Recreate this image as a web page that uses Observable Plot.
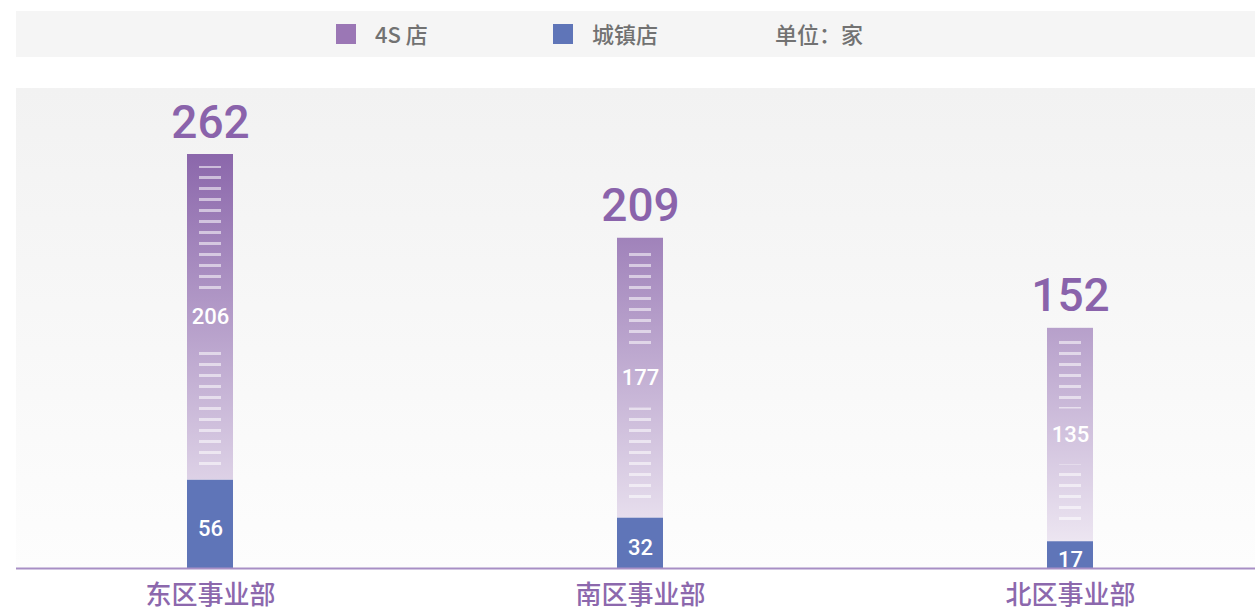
<!DOCTYPE html>
<html>
<head>
<meta charset="utf-8">
<script src="https://cdn.jsdelivr.net/npm/d3@7"></script>
<script src="https://cdn.jsdelivr.net/npm/@observablehq/plot@0.6"></script>
<style>
  html, body { margin: 0; padding: 0; background: #fff; }
  body { width: 1255px; height: 614px; overflow: hidden; font-family: "Noto Sans CJK SC", "Noto Sans", sans-serif; }
  #legend {
    margin: 11px 0 0 16px; height: 46px; background: #f5f5f5;
    display: flex; align-items: center; padding-left: 320px; box-sizing: border-box;
    color: #727272; font-size: 22px; font-weight: 500;
  }
  #legend .item { display: flex; align-items: center; }
  #legend .sw { width: 20px; height: 20px; margin-right: 19px; }
  #legend span { position: relative; top: -1px; }
  #chart svg { display: block; margin-left: 16px; }
</style>
</head>
<body>
<div id="legend"></div>
<div id="chart"></div>
<script>
// ---- data ----
const categories = ["东区事业部", "南区事业部", "北区事业部"];
const shop4S = [206, 177, 135];
const townShop = [56, 32, 17];
const totals = [262, 209, 152];
const seriesNames = ["4S 店", "城镇店"];
const unitLabel = "单位：家";

// ---- styles ----
const color4S = "#9b77b5";
const colorTown = "#5f75b8";
const purpleText = "#8a63ab";

// legend
const legend = d3.select("#legend");
const sw = [color4S, colorTown];
const gaps = [125, 117];
seriesNames.forEach((name, i) => {
  const it = legend.append("div").attr("class", "item").style("margin-right", gaps[i] + "px");
  it.append("div").attr("class", "sw").style("background", sw[i]);
  it.append("span").text(name);
});
legend.append("span").text(unitLabel);

// table
const rows = categories.map((c, i) => ({
  cat: c, s4: shop4S[i], town: townShop[i], total: totals[i],
  top: townShop[i] + shop4S[i], mid: townShop[i] + shop4S[i] / 2
}));

const W = 1239, H = 557, MT = 97, MB = 46;
const font = "Noto Sans CJK SC";
const numFont = "Roboto";

const chart = Plot.plot({
  width: W, height: H,
  marginTop: MT, marginBottom: MB, marginLeft: 84, marginRight: 75,
  style: { fontFamily: font, background: `linear-gradient(#fff 0 31px, #f2f2f2 31px, #fdfdfd ${H - MB}px, #fff ${H - MB}px)` },
  x: { domain: categories, paddingInner: 0.893, paddingOuter: 0.2, axis: null },
  y: { domain: [0, d3.max(totals)], axis: null },
  marks: [
    Plot.barY(rows, { x: "cat", y1: 0, y2: "town", fill: colorTown }),
    Plot.barY(rows, { x: "cat", y1: "town", y2: "top", fill: "url(#g4s)" }),
    Plot.barY(rows, { x: "cat", y1: "mid", y2: "top", fill: "url(#dash)", insetLeft: 12, insetRight: 12, insetTop: 12, insetBottom: 26 }),
    Plot.barY(rows, { x: "cat", y1: "town", y2: "mid", fill: "url(#dash)", insetLeft: 12, insetRight: 12, insetTop: 30, insetBottom: 14 }),
    Plot.text(rows, { x: "cat", y: "mid", text: d => String(d.s4), fill: "white", fontSize: 22, fontFamily: numFont, fontWeight: 500 }),
    Plot.text(rows, { x: "cat", y: d => d.town / 2, text: d => String(d.town), fill: "white", fontSize: 22, fontFamily: numFont, fontWeight: 500, dy: 5 }),
    Plot.text(rows, { x: "cat", y: "total", text: d => String(d.total), fill: purpleText, fontSize: 46, fontFamily: numFont, fontWeight: 500, lineAnchor: "bottom", dy: -17 }),
    Plot.ruleY([0], { stroke: "#a88fc5", strokeWidth: 2, insetLeft: -84, insetRight: -75 }),
    Plot.text(categories, { x: d => d, frameAnchor: "bottom", dy: 35, fill: "#8c68ad", fontSize: 26, fontWeight: 500 })
  ]
});

// gradient and dash pattern definitions
const defs = d3.select(chart).insert("defs", ":first-child");
const g = defs.append("linearGradient").attr("id", "g4s")
  .attr("gradientUnits", "userSpaceOnUse").attr("x1", 0).attr("x2", 0)
  .attr("y1", MT).attr("y2", H - MB);
g.append("stop").attr("offset", "0%").attr("stop-color", "#8b67ab");
g.append("stop").attr("offset", "100%").attr("stop-color", "#f3eef6");
const p = defs.append("pattern").attr("id", "dash").attr("patternUnits", "userSpaceOnUse")
  .attr("width", 10).attr("height", 11).attr("y", 9);
p.append("rect").attr("width", 10).attr("height", 3).attr("fill", "white").attr("fill-opacity", 0.55);

document.getElementById("chart").appendChild(chart);
</script>
</body>
</html>
